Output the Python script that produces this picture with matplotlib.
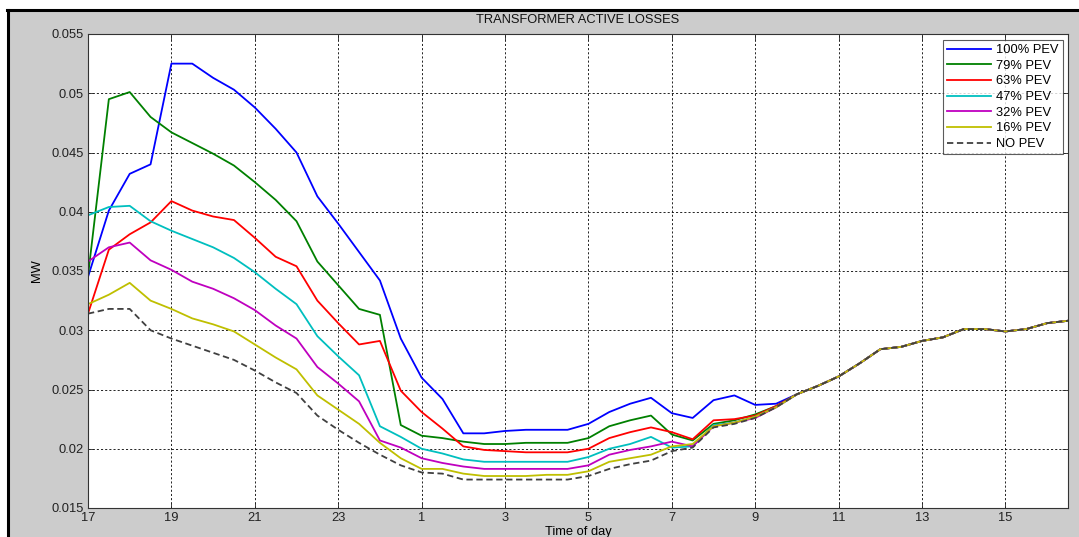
import numpy as np
import matplotlib
matplotlib.use("Agg")
import matplotlib.pyplot as plt
from matplotlib.lines import Line2D
from matplotlib.patches import Rectangle

plt.rcParams['font.family'] = ['Liberation Sans', 'DejaVu Sans']

# half-hourly time axis, 17:00 .. 16:30 next day (continuous hours)
hours = np.arange(17, 41, 0.5)
tick_pos = [17, 19, 21, 23, 25, 27, 29, 31, 33, 35, 37, 39]
tick_labels = ['17', '19', '21', '23', '1', '3', '5', '7', '9', '11', '13', '15']

common_tail = [0.0253, 0.0261, 0.0272, 0.0284, 0.0286, 0.0291, 0.0294,
               0.0301, 0.0301, 0.0299, 0.0301, 0.0306, 0.0308]

pev100 = [0.0345, 0.0401, 0.0432, 0.0440, 0.0525, 0.0525, 0.0513, 0.0503, 0.0488, 0.0470,
          0.0450, 0.0413, 0.0390, 0.0366, 0.0342, 0.0293, 0.0260, 0.0242, 0.0213, 0.0213,
          0.0215, 0.0216, 0.0216, 0.0216, 0.0221, 0.0231, 0.0238, 0.0243, 0.0230, 0.0226,
          0.0241, 0.0245, 0.0237, 0.0238, 0.0246] + common_tail
pev79 = [0.0346, 0.0495, 0.0501, 0.0480, 0.0467, 0.0458, 0.0449, 0.0439, 0.0425, 0.0410,
         0.0392, 0.0358, 0.0338, 0.0318, 0.0313, 0.0220, 0.0211, 0.0209, 0.0206, 0.0204,
         0.0204, 0.0205, 0.0205, 0.0205, 0.0209, 0.0219, 0.0224, 0.0228, 0.0212, 0.0207,
         0.0221, 0.0224, 0.0229, 0.0236, 0.0246] + common_tail
pev63 = [0.0314, 0.0368, 0.0381, 0.0391, 0.0409, 0.0401, 0.0396, 0.0393, 0.0378, 0.0362,
         0.0354, 0.0325, 0.0306, 0.0288, 0.0291, 0.0249, 0.0231, 0.0217, 0.0202, 0.0199,
         0.0198, 0.0197, 0.0197, 0.0197, 0.0200, 0.0209, 0.0214, 0.0218, 0.0214, 0.0208,
         0.0224, 0.0225, 0.0228, 0.0236, 0.0246] + common_tail
pev47 = [0.0397, 0.0404, 0.0405, 0.0392, 0.0384, 0.0377, 0.0370, 0.0361, 0.0349, 0.0335,
         0.0322, 0.0295, 0.0278, 0.0262, 0.0219, 0.0210, 0.0200, 0.0196, 0.0191, 0.0189,
         0.0189, 0.0189, 0.0189, 0.0189, 0.0193, 0.0200, 0.0204, 0.0210, 0.0201, 0.0202,
         0.0220, 0.0222, 0.0227, 0.0235, 0.0246] + common_tail
pev32 = [0.0358, 0.0370, 0.0374, 0.0359, 0.0351, 0.0341, 0.0335, 0.0327, 0.0317, 0.0304,
         0.0293, 0.0269, 0.0255, 0.0240, 0.0207, 0.0201, 0.0192, 0.0188, 0.0185, 0.0183,
         0.0183, 0.0183, 0.0183, 0.0183, 0.0186, 0.0195, 0.0199, 0.0202, 0.0206, 0.0202,
         0.0219, 0.0222, 0.0226, 0.0235, 0.0246] + common_tail
pev16 = [0.0322, 0.0330, 0.0340, 0.0325, 0.0318, 0.0310, 0.0305, 0.0299, 0.0288, 0.0277,
         0.0267, 0.0245, 0.0233, 0.0221, 0.0205, 0.0192, 0.0183, 0.0183, 0.0179, 0.0177,
         0.0177, 0.0177, 0.0178, 0.0178, 0.0181, 0.0189, 0.0192, 0.0195, 0.0202, 0.0204,
         0.0219, 0.0222, 0.0227, 0.0235, 0.0246] + common_tail
no_pev = [0.0314, 0.0318, 0.0318, 0.0300, 0.0293, 0.0287, 0.0281, 0.0275, 0.0266, 0.0256,
          0.0247, 0.0228, 0.0216, 0.0205, 0.0195, 0.0186, 0.0180, 0.0179, 0.0174, 0.0174,
          0.0174, 0.0174, 0.0174, 0.0174, 0.0177, 0.0183, 0.0187, 0.0190, 0.0198, 0.0201,
          0.0218, 0.0221, 0.0226, 0.0235, 0.0246] + common_tail

series = [
    ('100% PEV', pev100, '#0000ff', '-'),
    ('79% PEV', pev79, '#008000', '-'),
    ('63% PEV', pev63, '#ff0000', '-'),
    ('47% PEV', pev47, '#00bfbf', '-'),
    ('32% PEV', pev32, '#bf00bf', '-'),
    ('16% PEV', pev16, '#bfbf00', '-'),
    ('NO PEV', no_pev, '#404040', '--'),
]

FS = 9.3
W, H = 1079, 537
fig = plt.figure(figsize=(W / 100, H / 100), dpi=100)
fig.patch.set_facecolor('white')

# MATLAB-like gray window background with black frame on top/left
fig.patches.append(Rectangle((8 / W, 0), 1 - 8 / W, 1 - 10 / H, transform=fig.transFigure,
                             facecolor='#cccccc', edgecolor='none', zorder=-10))
fig.add_artist(Line2D([7.5 / W, 7.5 / W], [0, 1 - 9.5 / H], transform=fig.transFigure,
                      color='black', lw=2.2))
fig.add_artist(Line2D([6.5 / W, 1], [1 - 10 / H, 1 - 10 / H], transform=fig.transFigure,
                      color='black', lw=2.2))

ax = fig.add_axes([88 / W, (H - 508) / H, 980 / W, 474 / H])
ax.set_facecolor('white')

for label, vals, col, ls in series:
    if ls == '--':
        ax.plot(hours, vals, color=col, linestyle=(0, (3.5, 2)), lw=1.3, label=label)
    else:
        ax.plot(hours, vals, color=col, linestyle=ls, lw=1.3, label=label)

ax.set_xlim(17, 40.5)
ax.set_ylim(0.015, 0.055)
ax.set_xticks(tick_pos)
ax.set_xticklabels(tick_labels)
ax.set_yticks([0.015, 0.02, 0.025, 0.03, 0.035, 0.04, 0.045, 0.05, 0.055])
ax.set_yticklabels(['0.015', '0.02', '0.025', '0.03', '0.035', '0.04', '0.045', '0.05', '0.055'])
ax.tick_params(direction='in', length=4, width=0.6, top=True, right=True,
               labelsize=FS, colors='#222222', pad=3)
ax.grid(True, color='black', linestyle=(0, (2.5, 2.5)), lw=0.6)
for s in ax.spines.values():
    s.set_color('#333333')
    s.set_linewidth(0.8)

fig.text(578 / W, 1 - 20 / H, 'TRANSFORMER ACTIVE LOSSES', ha='center', va='center',
         fontsize=FS, color='#111111')
ax.set_xlabel('Time of day', fontsize=FS, labelpad=1)
ax.set_ylabel('MW', fontsize=FS, labelpad=6)

leg = ax.legend(loc='upper right', bbox_to_anchor=(1 - 5 / 980, 1 - 6 / 474),
                fontsize=FS, frameon=True, fancybox=False, handlelength=3.4,
                handletextpad=0.4, labelspacing=0.28, borderpad=0.32, borderaxespad=0)
leg.get_frame().set_edgecolor('#333333')
leg.get_frame().set_linewidth(0.8)

fig.savefig('out.png', dpi=100, facecolor=fig.get_facecolor())
